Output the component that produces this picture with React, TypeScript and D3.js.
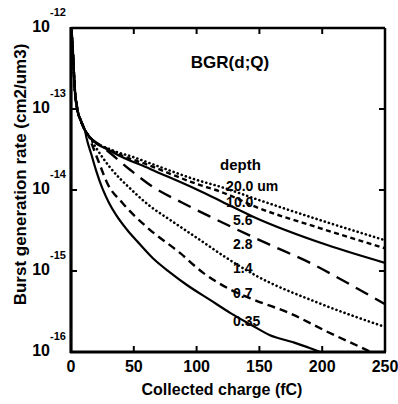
import * as d3 from "d3";
import React from "react";

// collected charge (fC) and log10 of burst generation rate (cm2/um3)
const startQ = [0.4, 1.5, 3, 5, 8, 11, 14];
const startLog = [-12.02, -12.3, -12.75, -13.0, -13.15, -13.26, -13.33];

const q20 = [33, 49, 63, 101, 119, 149, 198, 250];
const v20 = [-13.51, -13.59, -13.67, -13.88, -13.96, -14.12, -14.37, -14.62];

const q10 = [33, 63, 101, 119, 149, 198, 250];
const v10 = [-13.52, -13.7, -13.93, -14.02, -14.22, -14.47, -14.72];

const q56 = [33, 63, 101, 121, 145, 204, 250];
const v56 = [-13.53, -13.74, -14.0, -14.15, -14.33, -14.68, -14.9];

const q28 = [25.5, 47, 65, 89, 111, 127, 156, 193, 218, 250];
const v28 = [-13.47, -13.75, -13.96, -14.16, -14.33, -14.45, -14.66, -14.92, -15.13, -15.41];

const q14 = [20, 31, 47, 63, 79, 103, 124, 146.5, 198, 250];
const v14 = [-13.48, -13.72, -13.98, -14.2, -14.37, -14.62, -14.84, -15.05, -15.4, -15.69];

const q07 = [17.5, 23, 28.7, 41, 60.5, 87, 105, 127, 146.5, 174, 204, 236, 244];
const v07 = [-13.47, -13.69, -13.91, -14.16, -14.46, -14.78, -15.02, -15.23, -15.36, -15.52, -15.75, -15.98, -16.04];

const q035 = [12.7, 16, 20, 25, 30, 36, 44.6, 52.5, 65, 79, 92, 111, 127, 144, 158, 177, 190, 198, 206];
const v035 = [-13.38, -13.55, -13.76, -13.98, -14.15, -14.31, -14.49, -14.63, -14.84, -15.02, -15.17, -15.36, -15.52, -15.67, -15.79, -15.88, -15.95, -16.0, -16.05];

const depthLabels = ["20.0 um", "10.0", "5.6", "2.8", "1.4", "0.7", "0.35"];
const labelLog = [-14.01, -14.21, -14.43, -14.73, -15.02, -15.33, -15.68];

const xTicks = [0, 50, 100, 150, 200, 250];
const yExps = [-12, -13, -14, -15, -16];

const series = [
  { q: q20, v: v20, dash: "0.1,4.2", cap: "round", w: 2.6 },
  { q: q10, v: v10, dash: "5,3.5", cap: "butt", w: 2.4 },
  { q: q56, v: v56, dash: "none", cap: "butt", w: 2.2 },
  { q: q28, v: v28, dash: "14,8", cap: "butt", w: 2.4 },
  { q: q14, v: v14, dash: "0.1,4.2", cap: "round", w: 2.6 },
  { q: q07, v: v07, dash: "8,5", cap: "butt", w: 2.4 },
  { q: q035, v: v035, dash: "none", cap: "butt", w: 2.2 },
];

const font = "'Liberation Sans', Arial, Helvetica, sans-serif";

export default function App() {
  const W = 398;
  const H = 404;
  const left = 71;
  const right = 385;
  const top = 28;
  const bottom = 352;

  const x = d3.scaleLinear().domain([0, 250]).range([left, right]);
  const y = d3.scaleLog().domain([1e-16, 1e-12]).range([bottom, top]);

  const line = d3
    .line<[number, number]>()
    .x((d) => x(d[0]))
    .y((d) => y(Math.pow(10, d[1])))
    .curve(d3.curveMonotoneX);

  return (
    <svg
      width={W}
      height={H}
      style={{ position: "absolute", left: 0, top: 0, background: "#fff" }}
      fontFamily={font}
      fontWeight="bold"
    >
      <defs>
        <clipPath id="plot">
          <rect x={left} y={top} width={right - left} height={bottom - top} />
        </clipPath>
      </defs>

      <g clipPath="url(#plot)" fill="none" stroke="#000">
        {series.map((s, i) => {
          const pts: [number, number][] = startQ
            .map((q, j) => [q, startLog[j]] as [number, number])
            .filter((p) => p[0] < s.q[0])
            .concat(s.q.map((q, j) => [q, s.v[j]] as [number, number]));
          return (
            <path
              key={i}
              d={line(pts) as string}
              strokeWidth={s.w}
              strokeDasharray={s.dash}
              strokeLinecap={s.cap as any}
            />
          );
        })}
      </g>

      {/* frame */}
      <g stroke="#000" fill="none">
        <line x1={left} x2={right} y1={top} y2={top} strokeWidth={2.5} />
        <line x1={right} x2={right} y1={top} y2={bottom} strokeWidth={2.5} />
        <line x1={left} x2={left} y1={top - 1} y2={bottom + 1} strokeWidth={3.2} />
        <line x1={left - 1} x2={right + 1} y1={bottom} y2={bottom} strokeWidth={3.2} />
        {xTicks.slice(1, -1).map((t) => (
          <g key={t}>
            <line x1={x(t)} x2={x(t)} y1={bottom} y2={bottom - 6} strokeWidth={2} />
            <line x1={x(t)} x2={x(t)} y1={top} y2={top + 6} strokeWidth={2} />
          </g>
        ))}
        {yExps.slice(1, -1).map((e) => (
          <g key={e}>
            <line x1={left} x2={left + 6} y1={y(Math.pow(10, e))} y2={y(Math.pow(10, e))} strokeWidth={2} />
            <line x1={right} x2={right - 6} y1={y(Math.pow(10, e))} y2={y(Math.pow(10, e))} strokeWidth={2} />
          </g>
        ))}
      </g>

      {/* x tick labels */}
      {xTicks.map((t) => (
        <text key={t} x={x(t)} y={bottom + 20} textAnchor="middle" fontSize={16}>
          {t}
        </text>
      ))}

      {/* y tick labels */}
      {yExps.map((e) => (
        <g key={e}>
          <text x={50} y={y(Math.pow(10, e)) + 3.5} textAnchor="end" fontSize={16}>
            10
          </text>
          <text x={50} y={y(Math.pow(10, e)) - 12} fontSize={11}>
            {e}
          </text>
        </g>
      ))}

      <text x={222} y={395} textAnchor="middle" fontSize={16}>
        Collected charge (fC)
      </text>
      <text
        transform={`translate(26,${(27 + 322) / 2}) rotate(-90)`}
        textAnchor="middle"
        fontSize={17}
      >
        Burst generation rate (cm2/um3)
      </text>

      <text x={230} y={68} textAnchor="middle" fontSize={17}>
        BGR(d;Q)
      </text>
      <text x={220} y={170} fontSize={15}>
        depth
      </text>
      {depthLabels.map((l, i) => (
        <text key={l} x={i < 2 ? x(123.5) : x(129)} y={y(Math.pow(10, labelLog[i]))} fontSize={14}>
          {l}
        </text>
      ))}
    </svg>
  );
}
